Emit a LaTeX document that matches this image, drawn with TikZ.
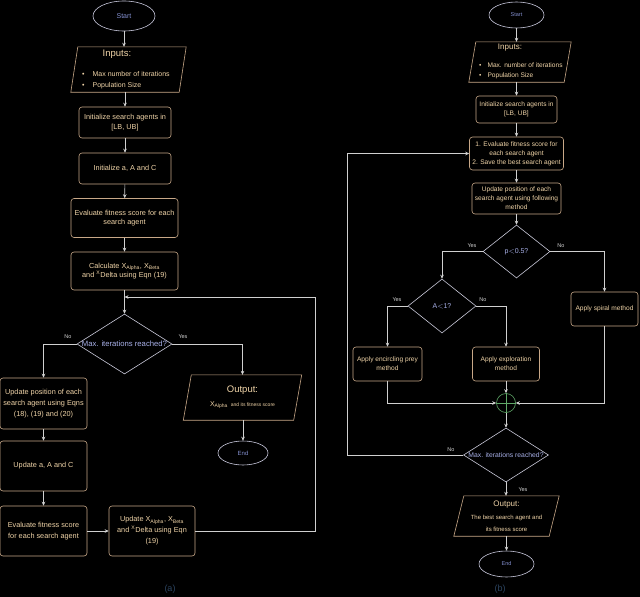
\documentclass[tikz,border=0pt]{standalone}
\usepackage{fontspec}
\setmainfont{Liberation Sans}
\usetikzlibrary{shapes.geometric,arrows.meta}
\definecolor{linec}{HTML}{D0D0D0}
\definecolor{boxc}{HTML}{C8A888}
\definecolor{txtc}{HTML}{F0D4A8}
\definecolor{ellc}{HTML}{C8C8DC}
\definecolor{starttxt}{HTML}{8490D0}
\definecolor{diac}{HTML}{C8C8D8}
\definecolor{diatxt}{HTML}{A8B0E8}
\definecolor{grn}{HTML}{60A868}
\definecolor{captc}{HTML}{2C4460}
\newcommand{\paraio}[2]{\draw[draw=boxc,line width=0.6pt] ([xshift=#2/2]#1.north west) -- ([xshift=#2/2]#1.north east) -- ([xshift=-#2/2]#1.south east) -- ([xshift=-#2/2]#1.south west) -- cycle;}
\begin{document}
\begin{tikzpicture}[x=1pt,y=-1pt,
 proc/.style={draw=boxc, rounded corners=3pt, text=txtc, align=center, inner sep=0pt, line width=0.6pt},
 io/.style={rectangle, text=txtc, align=center, inner sep=0pt},
 term/.style={draw=ellc, ellipse, text=starttxt, inner sep=0pt, line width=0.6pt},
 dec/.style={draw=diac, diamond, text=diatxt, inner sep=0pt, line width=0.6pt, align=center},
 arr/.style={draw=linec, line width=0.6pt, -{Stealth[length=4pt,width=3.6pt]}},
 lbl/.style={text=linec, font=\fontsize{5.5}{6}\selectfont, inner sep=0pt},
 fa/.style={font=\fontsize{7.3}{9.5}\selectfont},
 fc/.style={font=\fontsize{7.3}{11}\selectfont},
 fb/.style={font=\fontsize{6.6}{9}\selectfont},
]
\fill[black] (0,0) rectangle (640,597);
\useasboundingbox (0,0) rectangle (640,597);

% ---------------- (a) ----------------
\node[term, minimum width=62pt, minimum height=30pt, font=\fontsize{7}{8}\selectfont] (s1) at (124,16) {Start};
\node[io, minimum width=108pt, minimum height=45pt] (in1) at (128.5,69.5) {};
\paraio{in1}{7}
\node[text=txtc, font=\fontsize{9.5}{10}\selectfont, inner sep=0pt] (in1t) at (117,54) {Inputs:};
\node[text=txtc, font=\fontsize{7}{10.5}\selectfont, anchor=west, inner sep=0pt, align=left] (in1l) at (82,80) {\textbullet\hspace{8pt}Max number of iterations\\\textbullet\hspace{8pt}Population Size};
\node[proc, fa, minimum width=92pt, minimum height=31pt] (b1) at (125,122.5) {Initialize search agents in\\{[LB, UB]}};
\node[proc, fa, minimum width=92pt, minimum height=31pt] (b2) at (125,168.5) {Initialize a, A and C};
\node[proc, fa, minimum width=107pt, minimum height=39pt] (b3) at (124.5,218) {Evaluate fitness score for each\\search agent};
\node[proc, fa, minimum width=107pt, minimum height=38pt] (b4) at (124.5,271) {Calculate X\textsubscript{Alpha}, X\textsubscript{Beta}\\and \textsuperscript{X}Delta using Eqn (19)};
\node[dec, aspect=1.58, minimum width=95pt, minimum height=60pt, font=\fontsize{7.7}{8}\selectfont] (d1) at (124.5,344) {Max. iterations reached?};
\node[io, minimum width=110pt, minimum height=45pt] (out1) at (242.5,397.5) {{\fontsize{9.5}{10}\selectfont Output:}\\[2pt]{\fontsize{7}{8}\selectfont X\textsubscript{Alpha}} {\fontsize{5}{6}\selectfont and its fitness score}};
\paraio{out1}{8}
\node[term, minimum width=50pt, minimum height=24pt, font=\fontsize{6}{7}\selectfont] (e1) at (243,453) {End};
\node[proc, fc, minimum width=87pt, minimum height=51pt] (u1) at (43.5,403.5) {Update position of each\\search agent using Eqns\\(18), (19) and (20)};
\node[proc, fc, minimum width=87pt, minimum height=50pt] (u2) at (43.5,466) {Update a, A and C};
\node[proc, fc, minimum width=87pt, minimum height=50pt] (u3) at (43.5,531) {Evaluate fitness score\\for each search agent};
\node[proc, fc, minimum width=86pt, minimum height=50pt] (u4) at (152,531) {Update X\textsubscript{Alpha}, X\textsubscript{Beta}\\and \textsuperscript{X}Delta using Eqn\\(19)};
\coordinate (lc) at (315,297);
\coordinate (lj) at (124.5,297);

\draw[arr] (s1.south) -- (s1.south |- in1.north);
\draw[arr] (in1.south -| b1.north) -- (b1.north);
\draw[arr] (b1) -- (b2);
\draw[arr] (b2) -- (b3);
\draw[arr] (b3) -- (b4);
\draw[arr] (b4) -- (d1);
\draw[arr] (d1.west) -| (u1.north);
\draw[arr] (d1.east) -| (out1.north);
\draw[arr] (out1.south -| e1.north) -- (e1.north);
\draw[arr] (u1) -- (u2);
\draw[arr] (u2) -- (u3);
\draw[arr] (u3) -- (u4);
\draw[arr] (u4.east) -| (lc) -- (lj);
\node[lbl] (no1) at (68,337) {No};
\node[lbl] (yes1) at (183,337) {Yes};
\node[text=captc, font=\fontsize{9}{10}\selectfont, inner sep=0pt] (capa) at (170,589) {(a)};

% ---------------- (b) ----------------
\node[term, minimum width=55pt, minimum height=26pt, font=\fontsize{5.5}{6}\selectfont] (s2) at (516.5,15) {Start};
\node[io, minimum width=95pt, minimum height=40pt] (in2) at (520,62) {};
\paraio{in2}{7}
\node[text=txtc, font=\fontsize{8}{9}\selectfont, inner sep=0pt] (in2t) at (510,48) {Inputs:};
\node[text=txtc, font=\fontsize{6.6}{10}\selectfont, anchor=west, inner sep=0pt, align=left] (in2l) at (479,71) {\textbullet\hspace{6pt}Max. number of iterations\\\textbullet\hspace{6pt}Population Size};
\node[proc, fb, minimum width=81pt, minimum height=27pt] (b5) at (516.5,109.5) {Initialize search agents in\\{[LB, UB]}};
\node[proc, fb, minimum width=94pt, minimum height=33pt] (b6) at (516.5,153.5) {1. Evaluate fitness score for\\each search agent\\2. Save the best search agent};
\node[proc, fb, minimum width=89pt, minimum height=31pt] (b7) at (516.5,198.5) {Update position of each\\search agent using following\\method};
\node[dec, aspect=1.26, minimum width=67pt, minimum height=53pt, font=\fontsize{7}{8}\selectfont] (d2) at (516.5,251.5) {p$<$0.5?};
\node[dec, aspect=1.26, minimum width=68pt, minimum height=54pt, font=\fontsize{7}{8}\selectfont] (d3) at (442,306) {A$<$1?};
\node[proc, fb, minimum width=69pt, minimum height=34pt] (enc) at (387.5,364) {Apply encircling prey\\method};
\node[proc, fb, minimum width=67pt, minimum height=34pt] (exp) at (506,364) {Apply exploration\\method};
\node[proc, fb, minimum width=67pt, minimum height=34pt] (spi) at (604.5,309) {Apply spiral method};
\node[circle, draw=grn, line width=0.6pt, minimum size=19pt, inner sep=0pt] (cc) at (506,403) {};
\draw[grn, line width=0.6pt] (cc.north) -- (cc.south) (cc.west) -- (cc.east);
\node[dec, aspect=1.57, minimum width=85pt, minimum height=54pt, font=\fontsize{6.8}{7}\selectfont] (d4) at (506,455) {Max. iterations reached?};
\node[io, minimum width=95pt, minimum height=40pt] (out2) at (506.5,516) {{\fontsize{8}{9}\selectfont Output:}\\[1pt]{\fontsize{6}{10}\selectfont The best search agent and}\\{\fontsize{6}{6}\selectfont its fitness score}};
\paraio{out2}{10}
\node[term, minimum width=55pt, minimum height=26pt, font=\fontsize{5.5}{6}\selectfont] (e2) at (506.5,564) {End};
\coordinate (lb) at (347,455);

\draw[arr] (s2.south) -- (s2.south |- in2.north);
\draw[arr] (in2.south -| b5.north) -- (b5.north);
\draw[arr] (b5) -- (b6);
\draw[arr] (b6) -- (b7);
\draw[arr] (b7) -- (d2);
\draw[arr] (d2.west) -| (d3.north);
\draw[arr] (d2.east) -| (spi.north);
\draw[arr] (d3.west) -| (enc.north);
\draw[arr] (d3.east) -| (exp.north);
\draw[arr] (exp) -- (cc);
\draw[arr] (enc.south) |- (cc.west);
\draw[arr] (spi.south) |- (cc.east);
\draw[arr] (cc) -- (d4);
\draw[arr] (d4.west) -- (lb) |- (b6.west);
\draw[arr] (d4.south) -- (d4.south |- out2.north);
\draw[arr] (out2.south -| e2.north) -- (e2.north);
\node[lbl] (yes2) at (472,246) {Yes};
\node[lbl] (no2) at (561,246) {No};
\node[lbl] (yes3) at (397,300) {Yes};
\node[lbl] (no3) at (483,300) {No};
\node[lbl] (no4) at (451,450) {No};
\node[lbl] (yes4) at (523,490) {Yes};
\node[text=captc, font=\fontsize{9}{10}\selectfont, inner sep=0pt] (capb) at (500,589) {(b)};
\end{tikzpicture}
\end{document}
